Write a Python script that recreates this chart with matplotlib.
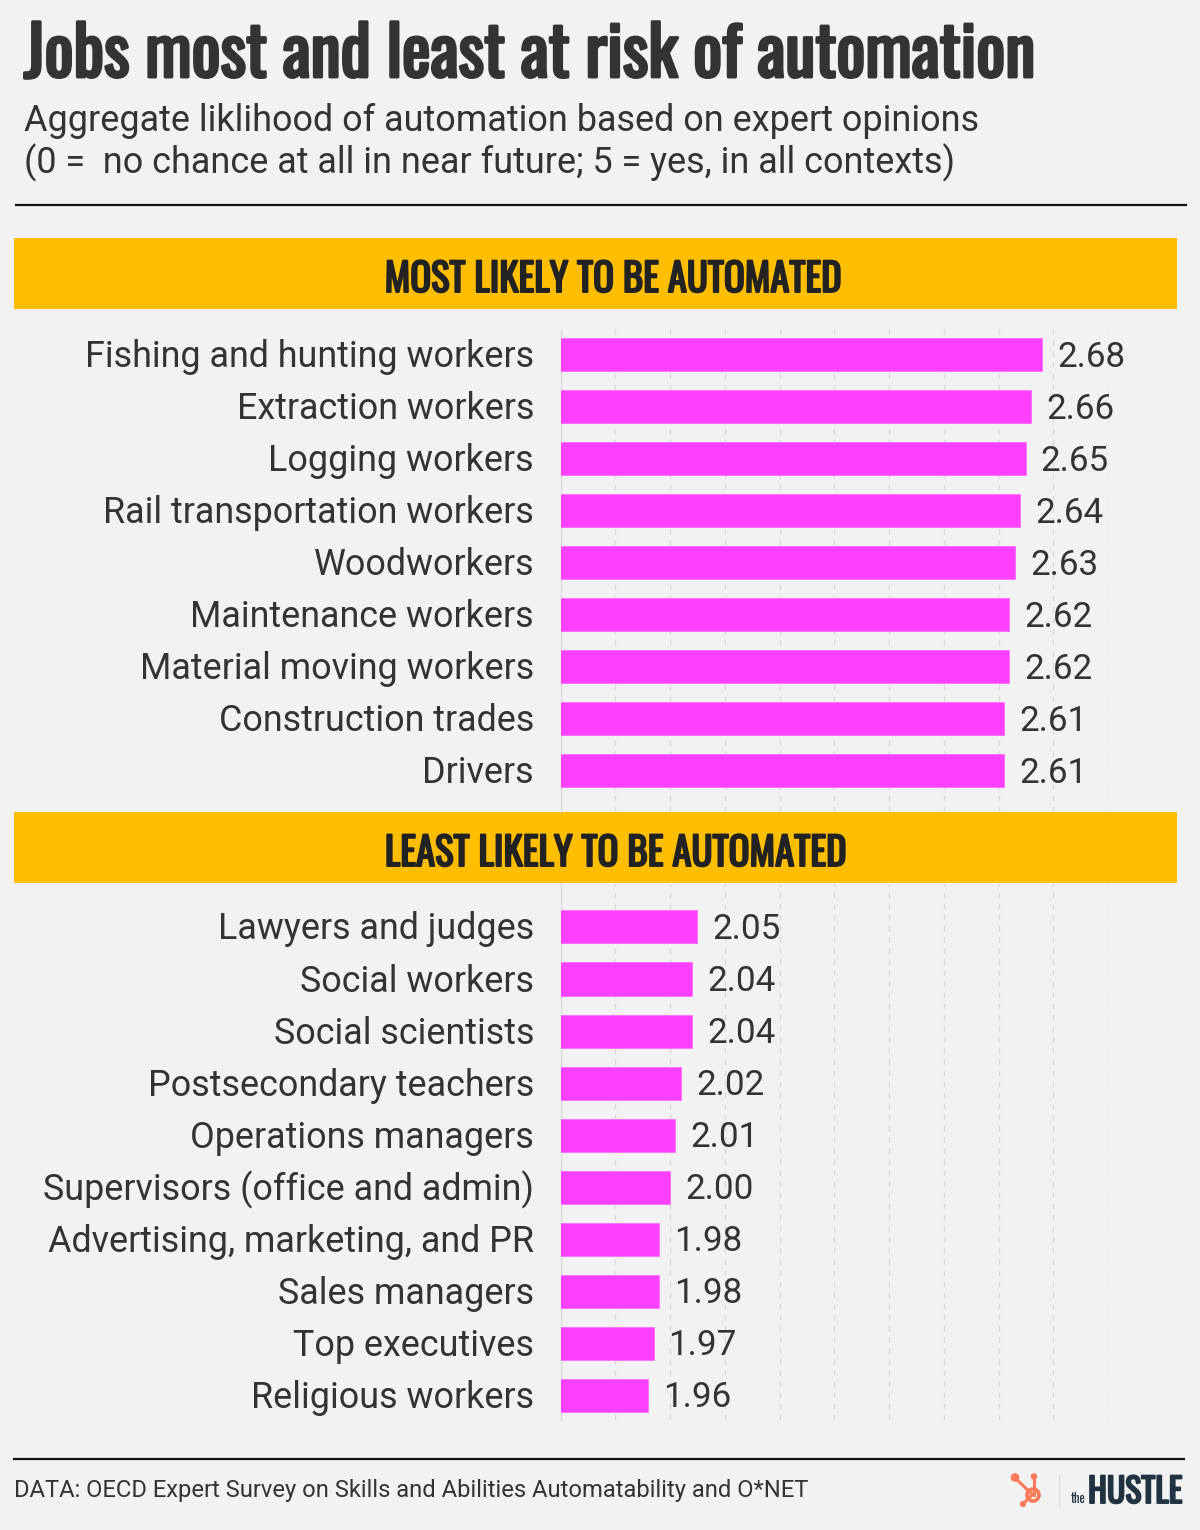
import matplotlib
matplotlib.use('Agg')
import matplotlib.pyplot as plt
from matplotlib import font_manager
from matplotlib.patches import Rectangle, Circle
from matplotlib.lines import Line2D
import matplotlib.transforms as mtransforms
import matplotlib.patheffects as pe

# ---------------- data ----------------
most_jobs = ["Fishing and hunting workers", "Extraction workers", "Logging workers",
             "Rail transportation workers", "Woodworkers", "Maintenance workers",
             "Material moving workers", "Construction trades", "Drivers"]
most_vals = [2.68, 2.66, 2.65, 2.64, 2.63, 2.62, 2.62, 2.61, 2.61]

least_jobs = ["Lawyers and judges", "Social workers", "Social scientists",
              "Postsecondary teachers", "Operations managers",
              "Supervisors (office and admin)", "Advertising, marketing, and PR",
              "Sales managers", "Top executives", "Religious workers"]
least_vals = [2.05, 2.04, 2.04, 2.02, 2.01, 2.00, 1.98, 1.98, 1.97, 1.96]

grid_ticks = [1.8, 1.9, 2.0, 2.1, 2.2, 2.3, 2.4, 2.5, 2.6, 2.7, 2.8]
x_min, x_max = 1.8, 2.8

title = "Jobs most and least at risk of automation"
subtitle1 = "Aggregate liklihood of automation based on expert opinions"
subtitle2 = "(0 =  no chance at all in near future; 5 = yes, in all contexts)"
header_most = "MOST LIKELY TO BE AUTOMATED"
header_least = "LEAST LIKELY TO BE AUTOMATED"
source = "DATA: OECD Expert Survey on Skills and Abilities Automatability and O*NET"

# ---------------- style ----------------
BG = "#F2F2F2"
BAR = "#FF40FF"
YELLOW = "#FFBF00"
TXT = "#333333"
W, H = 1200, 1530

names = {f.name for f in font_manager.fontManager.ttflist}
def pick(cands, default="DejaVu Sans"):
    for c in cands:
        if c in names:
            return c
    return default

COND = pick(["Oswald", "Roboto Condensed", "Liberation Sans Narrow", "DejaVu Sans"])
SANS = pick(["Roboto", "Noto Sans", "DejaVu Sans"])

fig = plt.figure(figsize=(W / 100, H / 100), dpi=100, facecolor=BG)
T = mtransforms.Affine2D().scale(1 / 100, -1 / 100).translate(0, H / 100) + fig.dpi_scale_trans

def fit(t, target_w):
    fig.canvas.draw()
    r = fig.canvas.get_renderer()
    w = t.get_window_extent(r).width
    t.set_fontsize(t.get_fontsize() * target_w / w)

def measure_size(text, family, target_w, weight="normal", stretch="normal"):
    t = fig.text(0, 0, text, fontsize=20, family=family, weight=weight, fontstretch=stretch)
    fig.canvas.draw()
    w = t.get_window_extent(fig.canvas.get_renderer()).width
    t.remove()
    return 20 * target_w / w

def bold(lw, col):
    return [pe.withStroke(linewidth=lw, foreground=col)]

# ---------------- header ----------------
t = fig.text(24, 77, title, transform=T, family=COND, weight="bold", fontstretch="condensed",
             fontsize=40, color=TXT, va="baseline", ha="left")
fit(t, 1011)
t.set_path_effects(bold(2.1, TXT))
t = fig.text(24, 131, subtitle1, transform=T, family=SANS, fontsize=22, color=TXT,
             va="baseline", ha="left")
fit(t, 953)
fig.text(24, 173, subtitle2, transform=T, family=SANS, fontsize=t.get_fontsize(), color=TXT,
         va="baseline", ha="left")
fig.add_artist(Line2D([16, 1186], [205, 205], transform=T, color="#111111", lw=1.6))

# banners
for (y0, y1, txt, x_c, w_t) in [(238, 309, header_most, 613.5, 457),
                                (812, 883, header_least, 616, 462)]:
    fig.add_artist(Rectangle((14, y0), 1163, y1 - y0, transform=T, facecolor=YELLOW,
                             edgecolor="none", zorder=0))
    tb = fig.text(x_c, y1 - 17, txt, transform=T, family=COND, weight="bold",
                  fontstretch="condensed", fontsize=24, color="#222222",
                  ha="center", va="baseline")
    fit(tb, w_t)
    tb.set_path_effects(bold(1.4, "#222222"))

# ---------------- axes ----------------
label_fs = measure_size("Fishing and hunting workers", SANS, 448)
value_fs = measure_size("2.68", SANS, 68)
half_cap_in = 0.711 * value_fs / 72 / 2

def make_axes(top, bottom, jobs, vals, ylim):
    ax = fig.add_axes([560.5 / W, 1 - bottom / H, 547.5 / W, (bottom - top) / H])
    ax.set_facecolor("none")
    pos = list(range(len(jobs)))
    ax.barh(pos, vals, height=33 / 52, color=BAR, edgecolor="#FF6CFF", linewidth=0.6, zorder=3)
    ax.set_xlim(x_min, x_max)
    ax.set_ylim(*ylim)
    ax.set_xticks(grid_ticks)
    ax.grid(axis="x", linestyle=(0, (4, 4)), color="#D9D9D9", lw=1, zorder=0)
    ax.tick_params(axis="x", length=0, labelbottom=False)
    ax.tick_params(axis="y", length=0, pad=19)
    ax.set_yticks(pos)
    ax.set_yticklabels(jobs, family=SANS, fontsize=label_fs, color=TXT, va="center_baseline")
    for lbl in ax.get_yticklabels():
        lbl.set_transform(lbl.get_transform() +
                          mtransforms.ScaledTranslation(0, 1.5 / 100, fig.dpi_scale_trans))
    for s in ["top", "right", "bottom"]:
        ax.spines[s].set_visible(False)
    ax.spines["left"].set_color("#DDDDDD")
    ax.spines["left"].set_linewidth(1)
    off = mtransforms.ScaledTranslation(15 / 100, -half_cap_in, fig.dpi_scale_trans)
    for p, v in zip(pos, vals):
        ax.text(v, p, f"{v:.2f}", transform=ax.transData + off, family=SANS,
                fontsize=value_fs, color=TXT, va="baseline", ha="left", clip_on=False, zorder=4)
    return ax

make_axes(329, 812, most_jobs, most_vals, (8.79, -0.5))
make_axes(883, 1420, least_jobs, least_vals, (9.48, -0.846))

# ---------------- footer ----------------
fig.add_artist(Line2D([14, 1184], [1459, 1459], transform=T, color="#111111", lw=1.6))
tf = fig.text(14, 1497, source, transform=T, family=SANS, fontsize=15, color=TXT,
              va="baseline", ha="left")
fit(tf, 799)

# logo: sprocket
ORANGE = "#FF7A59"
fig.add_artist(Line2D([1015, 1033], [1478, 1495], transform=T, color=ORANGE, lw=2.2,
                      solid_capstyle="round"))
fig.add_artist(Line2D([1034, 1034], [1477, 1495], transform=T, color=ORANGE, lw=2.2))
fig.add_artist(Line2D([1023, 1032], [1504, 1495], transform=T, color=ORANGE, lw=2.2))
fig.add_artist(Circle((1015, 1477.5), 3.6, transform=T, color=ORANGE))
fig.add_artist(Circle((1034, 1476.5), 2.6, transform=T, color=ORANGE))
fig.add_artist(Circle((1023, 1504), 2.4, transform=T, color=ORANGE))
fig.add_artist(Circle((1033, 1495), 6.0, transform=T, facecolor=BG, edgecolor=ORANGE, lw=2.6))
fig.add_artist(Line2D([1059, 1059], [1475, 1507], transform=T, color="#DDDDDD", lw=1))
NAVY = "#213343"
tt = fig.text(1071, 1503, "the", transform=T, family=COND, fontsize=12, color=NAVY,
              va="baseline", ha="left")
fit(tt, 15)
th = fig.text(1088, 1503, "HUSTLE", transform=T, family=COND, weight="bold",
              fontstretch="condensed", fontsize=20, color=NAVY, va="baseline", ha="left")
fit(th, 94)
th.set_path_effects(bold(1.4, NAVY))

fig.savefig("out.png", dpi=100, facecolor=BG)
